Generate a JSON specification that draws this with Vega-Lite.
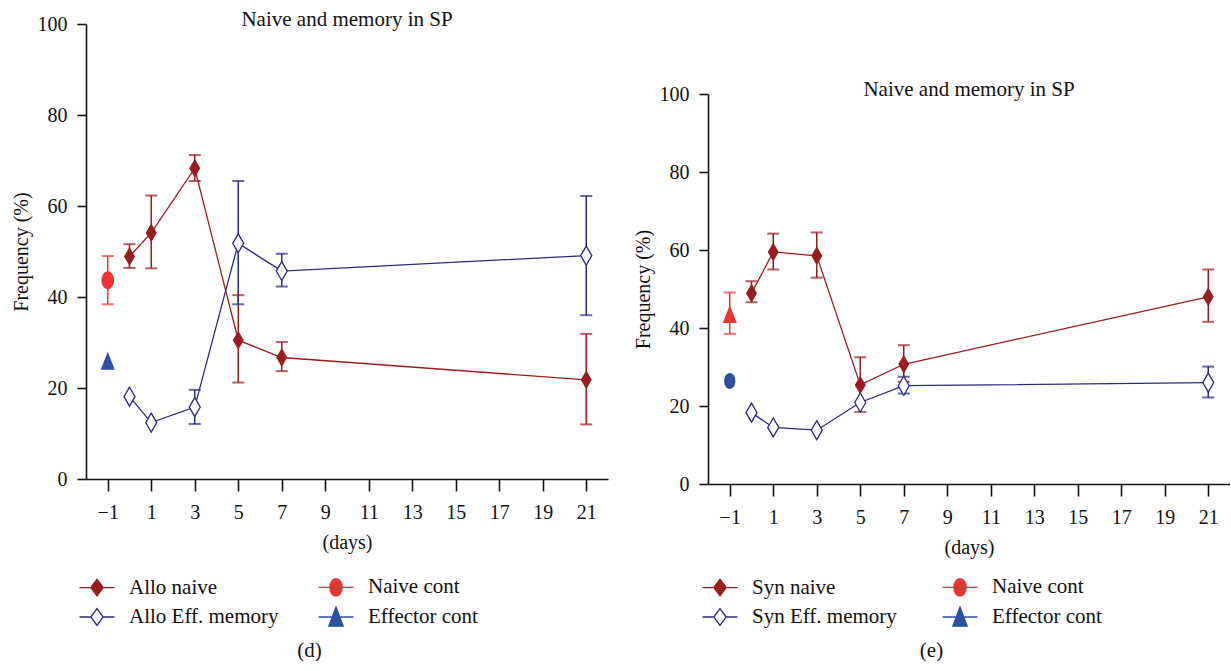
{
  "$schema": "https://vega.github.io/schema/vega-lite/v6.json",
  "background": "white",
  "padding": {"left": 11, "top": 9, "right": 0, "bottom": 0},
  "config": {
    "font": "Liberation Serif",
    "view": {"stroke": null},
    "axis": {
      "grid": false,
      "domainColor": "#111111",
      "domainWidth": 1.6,
      "tickColor": "#111111",
      "tickWidth": 1.6,
      "labelColor": "#111111",
      "labelFont": "Liberation Serif",
      "labelFontSize": 20,
      "titleColor": "#111111",
      "titleFont": "Liberation Serif",
      "titleFontSize": 20,
      "titleFontWeight": "normal"
    },
    "title": {"font": "Liberation Serif", "fontSize": 21, "fontWeight": "normal", "color": "#111111"},
    "legend": {
      "padding": 0,
      "symbolSize": 400,
      "symbolStrokeWidth": 1.3,
      "labelFont": "Liberation Serif",
      "labelFontSize": 21,
      "labelColor": "#111111",
      "labelOffset": 21,
      "labelLimit": 400,
      "rowPadding": 5,
      "columnPadding": 36
    }
  },
  "datasets": {
    "allo": [
      {"series": "Allo naive", "day": 0, "mean": 48.9, "lo": 46.4, "hi": 51.6},
      {"series": "Allo naive", "day": 1, "mean": 54.1, "lo": 46.3, "hi": 62.3},
      {"series": "Allo naive", "day": 3, "mean": 68.3, "lo": 65.5, "hi": 71.2},
      {"series": "Allo naive", "day": 5, "mean": 30.5, "lo": 21.2, "hi": 40.4},
      {"series": "Allo naive", "day": 7, "mean": 26.7, "lo": 23.7, "hi": 30.1},
      {"series": "Allo naive", "day": 21, "mean": 21.8, "lo": 12.0, "hi": 31.9},
      {"series": "Allo Eff. memory", "day": 0, "mean": 18.1, "lo": null, "hi": null},
      {"series": "Allo Eff. memory", "day": 1, "mean": 12.4, "lo": null, "hi": null},
      {"series": "Allo Eff. memory", "day": 3, "mean": 15.8, "lo": 12.1, "hi": 19.6},
      {"series": "Allo Eff. memory", "day": 5, "mean": 51.8, "lo": 38.4, "hi": 65.5},
      {"series": "Allo Eff. memory", "day": 7, "mean": 45.7, "lo": 42.3, "hi": 49.5},
      {"series": "Allo Eff. memory", "day": 21, "mean": 49.1, "lo": 36.0, "hi": 62.2},
      {"series": "Naive cont", "day": -1, "mean": 43.7, "lo": 38.4, "hi": 49.0},
      {"series": "Effector cont", "day": -1, "mean": 26.0, "lo": null, "hi": null}
    ],
    "syn": [
      {"series": "Syn naive", "day": 0, "mean": 48.9, "lo": 46.6, "hi": 52.0},
      {"series": "Syn naive", "day": 1, "mean": 59.5, "lo": 55.0, "hi": 64.2},
      {"series": "Syn naive", "day": 3, "mean": 58.5, "lo": 52.9, "hi": 64.5},
      {"series": "Syn naive", "day": 5, "mean": 25.4, "lo": 18.5, "hi": 32.5},
      {"series": "Syn naive", "day": 7, "mean": 30.7, "lo": 26.2, "hi": 35.6},
      {"series": "Syn naive", "day": 21, "mean": 48.0, "lo": 41.6, "hi": 55.0},
      {"series": "Syn Eff. memory", "day": 0, "mean": 18.3, "lo": null, "hi": null},
      {"series": "Syn Eff. memory", "day": 1, "mean": 14.5, "lo": null, "hi": null},
      {"series": "Syn Eff. memory", "day": 3, "mean": 13.8, "lo": null, "hi": null},
      {"series": "Syn Eff. memory", "day": 5, "mean": 20.9, "lo": null, "hi": null},
      {"series": "Syn Eff. memory", "day": 7, "mean": 25.2, "lo": 23.2, "hi": 27.5},
      {"series": "Syn Eff. memory", "day": 21, "mean": 26.0, "lo": 22.2, "hi": 30.1},
      {"series": "Naive cont", "day": -1, "mean": 43.6, "lo": 38.5, "hi": 49.1},
      {"series": "Effector cont", "day": -1, "mean": 26.4, "lo": null, "hi": null}
    ]
  },
  "spacing": 25,
  "resolve": {
    "scale": {"color": "independent", "fill": "independent", "stroke": "independent", "shape": "independent"},
    "legend": {"color": "independent", "fill": "independent", "stroke": "independent", "shape": "independent"}
  },
  "hconcat": [
    {
      "title": {"text": "(d)", "orient": "bottom", "anchor": "middle", "offset": 11},
      "resolve": {
        "scale": {"color": "independent", "fill": "independent", "stroke": "independent", "shape": "independent"},
        "legend": {"color": "independent", "fill": "independent", "stroke": "independent", "shape": "independent"}
      },
      "vconcat": [
        {
          "width": 522,
          "height": 455,
          "data": {"name": "allo"},
          "title": {"text": "Naive and memory in SP", "anchor": "middle", "offset": -16},
          "encoding": {
            "x": {
              "field": "day", "type": "quantitative",
              "scale": {"domain": [-2, 22], "nice": false, "zero": false},
              "axis": {"values": [-1, 1, 3, 5, 7, 9, 11, 13, 15, 17, 19, 21], "title": "(days)", "tickSize": 12, "labelPadding": 11, "titlePadding": 10, "labelFlush": false}
            }
          },
          "layer": [
            {
              "mark": {"type": "line", "strokeWidth": 1.3},
              "transform": [{"filter": {"field": "series", "oneOf": ["Allo naive", "Allo Eff. memory"]}}],
              "encoding": {
                "y": {"field": "mean", "type": "quantitative", "scale": {"domain": [0, 100], "nice": false},
                      "axis": {"title": "Frequency (%)", "values": [0, 20, 40, 60, 80, 100], "tickSize": 9, "labelPadding": 10, "titlePadding": 6}},
                "color": {"field": "series", "type": "nominal", "legend": null,
                          "scale": {"domain": ["Allo Eff. memory", "Allo naive", "Naive cont", "Effector cont"], "range": ["#2b2b7b", "#9a1c20", "#ee3437", "#2e4f9f"]}}
              }
            },
            {
              "mark": {"type": "rule", "strokeWidth": 1.5},
              "encoding": {
                "y": {"field": "lo", "type": "quantitative", "title": "Frequency (%)"},
                "y2": {"field": "hi"},
                "color": {"field": "series", "type": "nominal", "legend": null}
              }
            },
            {
              "mark": {"type": "tick", "orient": "horizontal", "size": 12, "thickness": 2},
              "encoding": {
                "y": {"field": "lo", "type": "quantitative", "title": "Frequency (%)"},
                "color": {"field": "series", "type": "nominal", "legend": null}
              }
            },
            {
              "mark": {"type": "tick", "orient": "horizontal", "size": 12, "thickness": 2},
              "encoding": {
                "y": {"field": "hi", "type": "quantitative", "title": "Frequency (%)"},
                "color": {"field": "series", "type": "nominal", "legend": null}
              }
            },
            {
              "mark": {"type": "point", "shape": "M0,-1L0.58,0L0,1L-0.58,0Z", "size": 361, "opacity": 1, "filled": true},
              "transform": [{"filter": {"field": "series", "equal": "Allo naive"}}],
              "encoding": {
                "y": {"field": "mean", "type": "quantitative", "title": "Frequency (%)"},
                "color": {"field": "series", "type": "nominal", "legend": null}
              }
            },
            {
              "mark": {"type": "point", "shape": "M0,-1L0.58,0L0,1L-0.58,0Z", "size": 361, "strokeWidth": 1.3, "opacity": 1, "filled": false, "fill": "#ffffff"},
              "transform": [{"filter": {"field": "series", "equal": "Allo Eff. memory"}}],
              "encoding": {
                "y": {"field": "mean", "type": "quantitative", "title": "Frequency (%)"},
                "color": {"field": "series", "type": "nominal", "legend": null}
              }
            },
            {
              "mark": {"type": "point", "shape": "M0,-1A0.7,1 0 1,1 0,1A0.7,1 0 1,1 0,-1Z", "size": 324, "opacity": 1, "filled": true},
              "transform": [{"filter": {"field": "series", "equal": "Naive cont"}}],
              "encoding": {
                "y": {"field": "mean", "type": "quantitative", "title": "Frequency (%)"},
                "color": {"field": "series", "type": "nominal", "legend": null}
              }
            },
            {
              "mark": {"type": "point", "shape": "M0,-1L0.78,1L-0.78,1Z", "size": 324, "opacity": 1, "filled": true},
              "transform": [{"filter": {"field": "series", "equal": "Effector cont"}}],
              "encoding": {
                "y": {"field": "mean", "type": "quantitative", "title": "Frequency (%)"},
                "color": {"field": "series", "type": "nominal", "legend": null}
              }
            },
            {
              "data": {"values": []},
              "mark": {"type": "point", "opacity": 1, "filled": true, "strokeWidth": 1.3},
              "encoding": {
                "shape": {"field": "series", "type": "nominal",
                          "scale": {"domain": ["Allo naive", "Allo Eff. memory", "Naive cont", "Effector cont"],
                                    "range": ["M-1.75,0H-0.62M0.62,0H1.75M0,-0.83L0.62,0L0,0.83L-0.62,0Z",
                                              "M-1.75,0H-0.62M0.62,0H1.75M0,-0.83L0.62,0L0,0.83L-0.62,0Z",
                                              "M-1.75,0H-0.62M0.62,0H1.75M0,-0.87A0.62,0.87 0 1,1 0,0.87A0.62,0.87 0 1,1 0,-0.87Z",
                                              "M-1.75,0H-0.38M0.38,0H1.75M0,-1L0.72,0.9L-0.72,0.9Z"]},
                          "legend": {"title": null, "orient": "none", "legendX": 0, "legendY": 552, "columns": 2}},
                "fill": {"field": "series", "type": "nominal",
                         "scale": {"domain": ["Allo naive", "Allo Eff. memory", "Naive cont", "Effector cont"], "range": ["#9a1c20", "#ffffff", "#ee3437", "#2e4f9f"]},
                         "legend": {"title": null, "orient": "none", "legendX": 0, "legendY": 552, "columns": 2}},
                "stroke": {"field": "series", "type": "nominal",
                           "scale": {"domain": ["Allo naive", "Allo Eff. memory", "Naive cont", "Effector cont"], "range": ["#9a1c20", "#2b2b7b", "#ee3437", "#2e4f9f"]},
                           "legend": {"title": null, "orient": "none", "legendX": 0, "legendY": 552, "columns": 2}}
              }
            }
          ]
        }
      ]
    },
    {
      "title": {"text": "(e)", "orient": "bottom", "anchor": "middle", "offset": 11},
      "spacing": 20,
      "resolve": {
        "scale": {"color": "independent", "fill": "independent", "stroke": "independent", "shape": "independent"},
        "legend": {"color": "independent", "fill": "independent", "stroke": "independent", "shape": "independent"}
      },
      "vconcat": [
        {
          "width": 522,
          "height": 35,
          "data": {"values": []},
          "mark": "point"
        },
        {
          "width": 522,
          "height": 390,
          "data": {"name": "syn"},
          "title": {"text": "Naive and memory in SP", "anchor": "middle", "offset": -16},
          "encoding": {
            "x": {
              "field": "day", "type": "quantitative",
              "scale": {"domain": [-2, 22], "nice": false, "zero": false},
              "axis": {"values": [-1, 1, 3, 5, 7, 9, 11, 13, 15, 17, 19, 21], "title": "(days)", "tickSize": 12, "labelPadding": 11, "titlePadding": 10, "labelFlush": false}
            }
          },
          "layer": [
            {
              "mark": {"type": "line", "strokeWidth": 1.3},
              "transform": [{"filter": {"field": "series", "oneOf": ["Syn naive", "Syn Eff. memory"]}}],
              "encoding": {
                "y": {"field": "mean", "type": "quantitative", "scale": {"domain": [0, 100], "nice": false},
                      "axis": {"title": "Frequency (%)", "values": [0, 20, 40, 60, 80, 100], "tickSize": 9, "labelPadding": 10, "titlePadding": 6}},
                "color": {"field": "series", "type": "nominal", "legend": null,
                          "scale": {"domain": ["Syn Eff. memory", "Syn naive", "Naive cont", "Effector cont"], "range": ["#2b2b7b", "#9a1c20", "#ee3437", "#2e4f9f"]}}
              }
            },
            {
              "mark": {"type": "rule", "strokeWidth": 1.5},
              "encoding": {
                "y": {"field": "lo", "type": "quantitative", "title": "Frequency (%)"},
                "y2": {"field": "hi"},
                "color": {"field": "series", "type": "nominal", "legend": null}
              }
            },
            {
              "mark": {"type": "tick", "orient": "horizontal", "size": 12, "thickness": 2},
              "encoding": {
                "y": {"field": "lo", "type": "quantitative", "title": "Frequency (%)"},
                "color": {"field": "series", "type": "nominal", "legend": null}
              }
            },
            {
              "mark": {"type": "tick", "orient": "horizontal", "size": 12, "thickness": 2},
              "encoding": {
                "y": {"field": "hi", "type": "quantitative", "title": "Frequency (%)"},
                "color": {"field": "series", "type": "nominal", "legend": null}
              }
            },
            {
              "mark": {"type": "point", "shape": "M0,-1L0.58,0L0,1L-0.58,0Z", "size": 361, "opacity": 1, "filled": true},
              "transform": [{"filter": {"field": "series", "equal": "Syn naive"}}],
              "encoding": {
                "y": {"field": "mean", "type": "quantitative", "title": "Frequency (%)"},
                "color": {"field": "series", "type": "nominal", "legend": null}
              }
            },
            {
              "mark": {"type": "point", "shape": "M0,-1L0.58,0L0,1L-0.58,0Z", "size": 361, "strokeWidth": 1.3, "opacity": 1, "filled": false, "fill": "#ffffff"},
              "transform": [{"filter": {"field": "series", "equal": "Syn Eff. memory"}}],
              "encoding": {
                "y": {"field": "mean", "type": "quantitative", "title": "Frequency (%)"},
                "color": {"field": "series", "type": "nominal", "legend": null}
              }
            },
            {
              "mark": {"type": "point", "shape": "M0,-1L0.78,1L-0.78,1Z", "size": 324, "opacity": 1, "filled": true},
              "transform": [{"filter": {"field": "series", "equal": "Naive cont"}}],
              "encoding": {
                "y": {"field": "mean", "type": "quantitative", "title": "Frequency (%)"},
                "color": {"field": "series", "type": "nominal", "legend": null}
              }
            },
            {
              "mark": {"type": "point", "shape": "M0,-1A0.7,1 0 1,1 0,1A0.7,1 0 1,1 0,-1Z", "size": 256, "opacity": 1, "filled": true},
              "transform": [{"filter": {"field": "series", "equal": "Effector cont"}}],
              "encoding": {
                "y": {"field": "mean", "type": "quantitative", "title": "Frequency (%)"},
                "color": {"field": "series", "type": "nominal", "legend": null}
              }
            },
            {
              "data": {"values": []},
              "mark": {"type": "point", "opacity": 1, "filled": true, "strokeWidth": 1.3},
              "encoding": {
                "shape": {"field": "series", "type": "nominal",
                          "scale": {"domain": ["Syn naive", "Syn Eff. memory", "Naive cont", "Effector cont"],
                                    "range": ["M-1.75,0H-0.62M0.62,0H1.75M0,-0.83L0.62,0L0,0.83L-0.62,0Z",
                                              "M-1.75,0H-0.62M0.62,0H1.75M0,-0.83L0.62,0L0,0.83L-0.62,0Z",
                                              "M-1.75,0H-0.62M0.62,0H1.75M0,-0.87A0.62,0.87 0 1,1 0,0.87A0.62,0.87 0 1,1 0,-0.87Z",
                                              "M-1.75,0H-0.38M0.38,0H1.75M0,-1L0.72,0.9L-0.72,0.9Z"]},
                          "legend": {"title": null, "orient": "none", "legendX": 1, "legendY": 482, "columns": 2, "columnPadding": 42}},
                "fill": {"field": "series", "type": "nominal",
                         "scale": {"domain": ["Syn naive", "Syn Eff. memory", "Naive cont", "Effector cont"], "range": ["#9a1c20", "#ffffff", "#ee3437", "#2e4f9f"]},
                         "legend": {"title": null, "orient": "none", "legendX": 1, "legendY": 482, "columns": 2, "columnPadding": 42}},
                "stroke": {"field": "series", "type": "nominal",
                           "scale": {"domain": ["Syn naive", "Syn Eff. memory", "Naive cont", "Effector cont"], "range": ["#9a1c20", "#2b2b7b", "#ee3437", "#2e4f9f"]},
                           "legend": {"title": null, "orient": "none", "legendX": 1, "legendY": 482, "columns": 2, "columnPadding": 42}}
              }
            }
          ]
        }
      ]
    }
  ]
}
